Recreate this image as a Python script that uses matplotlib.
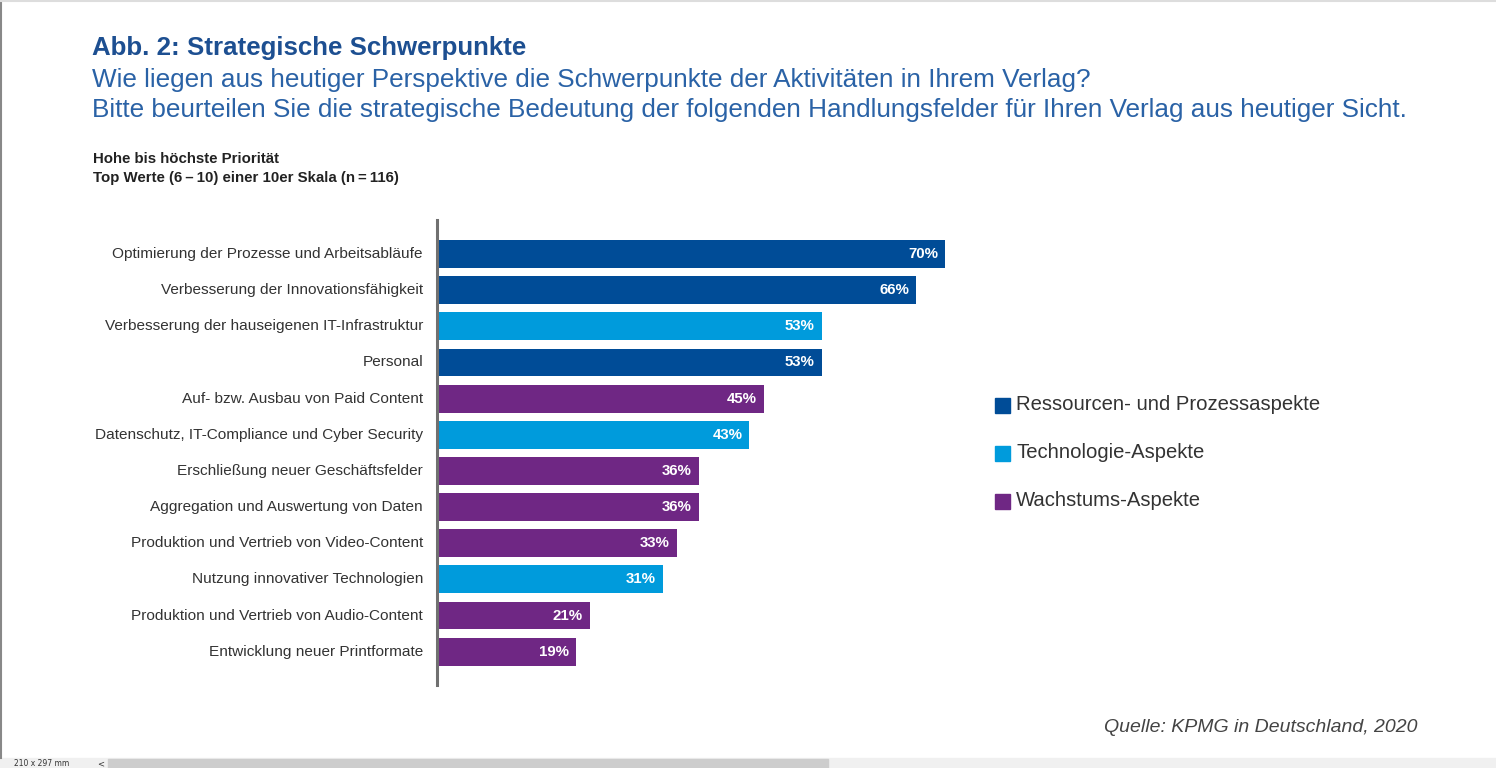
import matplotlib
matplotlib.use("Agg")
import matplotlib.pyplot as plt
from matplotlib.patches import Rectangle
from matplotlib.transforms import offset_copy

categories = [
    "Optimierung der Prozesse und Arbeitsabläufe",
    "Verbesserung der Innovationsfähigkeit",
    "Verbesserung der hauseigenen IT-Infrastruktur",
    "Personal",
    "Auf- bzw. Ausbau von Paid Content",
    "Datenschutz, IT-Compliance und Cyber Security",
    "Erschließung neuer Geschäftsfelder",
    "Aggregation und Auswertung von Daten",
    "Produktion und Vertrieb von Video-Content",
    "Nutzung innovativer Technologien",
    "Produktion und Vertrieb von Audio-Content",
    "Entwicklung neuer Printformate",
]
values = [70, 66, 53, 53, 45, 43, 36, 36, 33, 31, 21, 19]
groups = ["R", "R", "T", "R", "W", "T", "W", "W", "W", "T", "W", "W"]
group_names = {
    "R": "Ressourcen- und Prozessaspekte",
    "T": "Technologie-Aspekte",
    "W": "Wachstums-Aspekte",
}
group_colors = {"R": "#004C97", "T": "#009BDC", "W": "#6F2784"}

W, H = 1496, 768
fig = plt.figure(figsize=(W / 100, H / 100), dpi=100)
fig.patch.set_facecolor("white")
FONT = "Liberation Sans"

def fx(x):
    return x / W

def fy(y):
    return 1 - y / H

# axes: x from 438 px, width so that 70% -> 945 px
ppp = (945 - 438) / 70.0
ax_left, ax_right = 438, 1400
ax_top, ax_bot = 220, 685
ax = fig.add_axes([fx(ax_left), fy(ax_bot), (ax_right - ax_left) / W, (ax_bot - ax_top) / H])
ax.set_xlim(0, (ax_right - ax_left) / ppp)
ax.set_ylim(11.92, -0.94)
ax.axis("off")

ypos = list(range(len(categories)))
colors = [group_colors[g] for g in groups]
ax.barh(ypos, values, height=0.77, color=colors, edgecolor="none")

for y, v, c in zip(ypos, values, categories):
    ax.text(v, y, f"{v}%", color="white", fontsize=10.8, fontweight="bold",
            ha="right", va="center", family=FONT,
            transform=offset_copy(ax.transData, fig=fig, x=-7, y=0, units="dots"))
    ax.text(0, y, c, color="#333333", fontsize=11.1, ha="right", va="center",
            family=FONT,
            transform=offset_copy(ax.transData, fig=fig, x=-15, y=0, units="dots"))

# vertical axis line
fig.add_artist(plt.Line2D([fx(437), fx(437)], [fy(220), fy(685)], color="#707070", lw=2.2))

# titles
title_c = "#1D4F91"
sub_c = "#2A62A6"
fig.text(fx(92), fy(48), "Abb. 2: Strategische Schwerpunkte", fontsize=18.6, fontweight="bold",
         color=title_c, va="center", ha="left", family=FONT)
fig.text(fx(92), fy(80), "Wie liegen aus heutiger Perspektive die Schwerpunkte der Aktivitäten in Ihrem Verlag?",
         fontsize=18.8, color=sub_c, va="center", ha="left", family=FONT)
fig.text(fx(92), fy(110), "Bitte beurteilen Sie die strategische Bedeutung der folgenden Handlungsfelder für Ihren Verlag aus heutiger Sicht.",
         fontsize=18.8, color=sub_c, va="center", ha="left", family=FONT)

fig.text(fx(93), fy(159), "Hohe bis höchste Priorität", fontsize=10.8, fontweight="bold",
         color="#222222", va="center", ha="left", family=FONT)
fig.text(fx(93), fy(178), "Top Werte (6\u2009–\u200910) einer 10er Skala (n\u2009=\u2009116)", fontsize=10.8,
         fontweight="bold", color="#222222", va="center", ha="left", family=[FONT, "DejaVu Sans"])

# legend
leg_y = [405, 453, 501]
for g, yy in zip(["R", "T", "W"], leg_y):
    fig.add_artist(Rectangle((fx(995), fy(yy + 7.5)), 15 / W, 15 / H, color=group_colors[g],
                             transform=fig.transFigure))
    fig.text(fx(1016), fy(yy), group_names[g], fontsize=14.6, color="#333333",
             va="center", ha="left", family=FONT)

# source
fig.text(fx(1417), fy(728), "Quelle: KPMG in Deutschland, 2020", fontsize=14.0, style="italic",
         color="#444444", va="center", ha="right", family=FONT)

# screenshot chrome
fig.add_artist(Rectangle((0, 0), 1, 10 / H, color="#f0f0f0", transform=fig.transFigure))
fig.add_artist(Rectangle((fx(108), 0), (828 - 108) / W, 9 / H, color="#cdcdcd", transform=fig.transFigure))
fig.text(fx(14), fy(764), "210 x 297 mm", fontsize=5.5, color="#333333", va="center", ha="left")
fig.text(fx(97), fy(764), "<", fontsize=6, color="#333333", va="center", ha="left")
fig.add_artist(plt.Line2D([fx(1), fx(1)], [fy(0), fy(758)], color="#888888", lw=1.5))
fig.add_artist(plt.Line2D([0, 1], [fy(1), fy(1)], color="#dddddd", lw=1.5))

fig.savefig("out.png", dpi=100, facecolor="white")
